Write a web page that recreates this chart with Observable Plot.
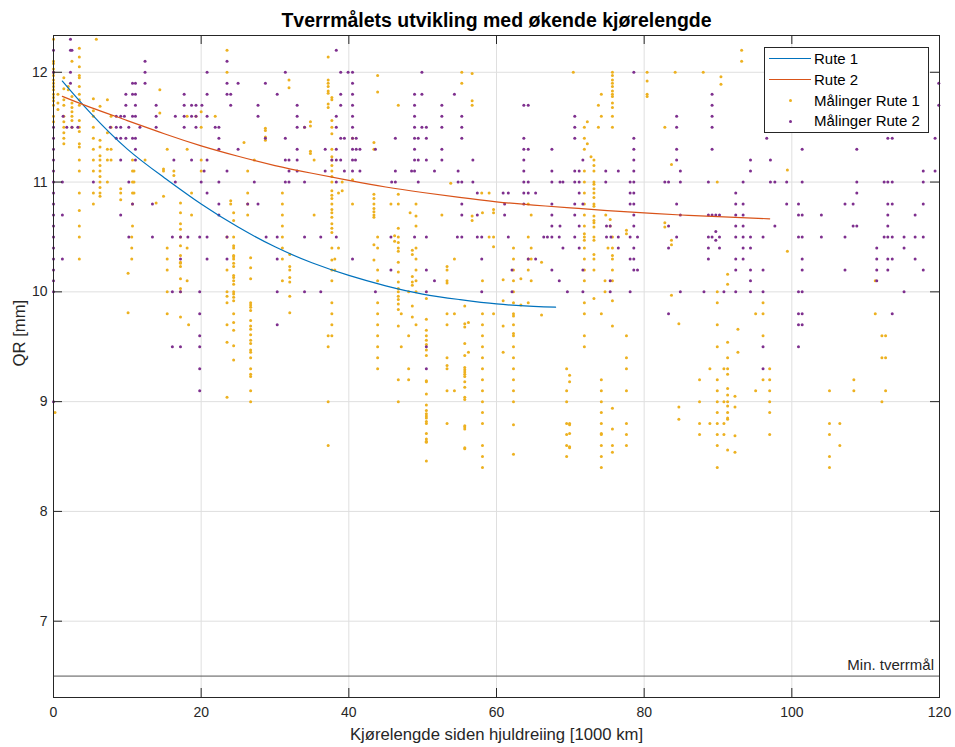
<!DOCTYPE html>
<html>
<head>
<meta charset="utf-8">
<script src="https://cdn.jsdelivr.net/npm/d3@7"></script>
<script src="https://cdn.jsdelivr.net/npm/@observablehq/plot@0.6"></script>
<style>
  body { margin: 0; background: #fff; font-family: "Liberation Sans", Arial, Helvetica, sans-serif; }
  #fig { position: relative; width: 955px; height: 747px; }
  #fig svg { position: absolute; left: 0; top: 0; }
  .lg-box { position: absolute; left: 764px; top: 47px; width: 165px; height: 86px; box-sizing: border-box;
            border: 1px solid #262626; background: #fff; }
  .lg-line { position: absolute; left: 769px; width: 42px; height: 0; border-top: 1.3px solid; }
  .lg-dot { position: absolute; left: 789px; width: 3px; height: 3px; border-radius: 50%; }
  .lg-text { position: absolute; left: 814px; font-size: 15px; line-height: 16px; color: #000; white-space: nowrap; }
</style>
</head>
<body>
<div id="fig"></div>
<script>
// Axis ticks
const xTicks = [0, 20, 40, 60, 80, 100, 120];
const yTicks = [7, 8, 9, 10, 11, 12];
const xDomain = [0, 120];
const yDomain = [6.305, 12.335];

// Minimum allowed flange thickness
const minTverrmaal = 6.5;
const minLabel = "Min. tverrmål";

// Fitted wear curves
const rute1Km = [1.2, 5, 10, 15, 20, 25, 30, 35, 40, 45, 50, 55, 60, 65, 68];
const rute1QR = [11.92, 11.63, 11.30, 11.04, 10.80, 10.59, 10.41, 10.265, 10.15, 10.055, 9.98, 9.93, 9.89, 9.867, 9.86];
const rute2Km = [1.2, 5, 10, 15, 20, 25, 30, 35, 40, 45, 50, 55, 60, 65, 70, 75, 80, 85, 90, 97];
const rute2QR = [11.78, 11.68, 11.56, 11.44, 11.33, 11.235, 11.15, 11.08, 11.015, 10.955, 10.905, 10.86, 10.82, 10.79, 10.765, 10.74, 10.72, 10.70, 10.685, 10.665];

// Measurements, route 1: [km, [QR values measured at that mileage]]
const malingerRute1 = [
  [0, [12.3, 12.1, 12.08, 12.03, 12.0, 11.97, 11.93, 11.9, 11.87, 11.84, 11.8, 11.77, 11.74, 11.7, 11.6, 11.55]],
  [0.2, [8.9]],
  [0.6, [11.8, 11.72, 11.66]],
  [1.4, [11.95, 11.85, 11.75, 11.7, 11.6, 11.55, 11.5, 11.45, 11.4, 11.35]],
  [2.0, [11.87, 11.84]],
  [2.5, [12.1, 11.78, 11.72, 11.68, 11.64, 11.6, 11.56, 11.5]],
  [3.5, [12.22, 12.14, 12.05, 11.97, 11.95, 11.87, 11.8, 11.75, 11.7, 11.56, 11.5, 11.46, 11.35, 11.32, 11.2, 11.1, 10.9, 10.74, 10.6, 10.5, 10.3]],
  [5.4, [11.76, 11.65, 11.6, 11.5, 11.4, 11.3, 11.2, 11.1, 10.9, 10.8]],
  [5.8, [12.3]],
  [6.3, [11.69, 11.38, 11.32, 11.24, 11.2, 11.15, 11.1, 11.05, 11.0, 10.95, 10.9, 10.87]],
  [7.3, [11.75, 11.45, 11.3, 11.2, 11.0]],
  [7.8, [11.6, 11.5, 11.3, 11.2]],
  [9.1, [10.94, 10.9, 10.84]],
  [10.1, [10.17, 9.81]],
  [10.6, [10.5, 10.4, 10.3]],
  [10.7, [11.2, 11.1, 11.0, 10.9, 10.8, 10.6]],
  [10.9, [11.1, 11.0, 10.9]],
  [12.4, [11.2]],
  [13.9, [10.81]],
  [14.4, [11.84, 11.63]],
  [14.9, [11.12, 11.1, 10.87]],
  [15.4, [11.3, 10.4, 10.3, 10.2, 10.0, 9.8]],
  [16.3, [11.1, 11.06]],
  [17.2, [10.81, 10.72, 10.62, 10.57, 10.5, 10.42, 10.33, 10.27, 10.26, 10.23, 10.12, 10.03, 10.0, 9.77]],
  [18.1, [11.6, 11.3, 10.4, 10.1]],
  [18.3, [9.7]],
  [18.7, [10.9, 10.7]],
  [19.3, [11.6]],
  [20.0, [11.64, 11.5, 11.2, 11.1]],
  [21.9, [11.6]],
  [23.5, [12.2, 12.0, 10.5, 10.2, 10.0, 9.96, 9.9, 9.7, 9.54, 9.04]],
  [24.0, [10.83, 10.8]],
  [24.4, [10.72, 10.65, 10.5, 10.42, 10.4, 10.33, 10.32, 10.3, 10.26, 10.23, 10.15, 10.13, 10.1, 10.07, 10.0, 9.98, 9.95, 9.92, 9.8, 9.72, 9.65, 9.51, 9.38]],
  [25.8, [11.36]],
  [26.3, [11.1, 10.9, 10.8, 10.7]],
  [26.7, [10.31, 10.22, 10.12, 9.9, 9.88, 9.86, 9.83, 9.74, 9.69, 9.66, 9.61, 9.56, 9.53, 9.47, 9.45, 9.4, 9.3, 9.25, 9.23, 9.1, 9.0]],
  [27.2, [11.2]],
  [28.7, [11.49, 11.47, 11.41, 11.38]],
  [31.0, [10.9, 10.8, 10.7, 10.6, 10.5, 10.4, 10.3, 10.1]],
  [31.9, [11.93, 11.86]],
  [32.0, [10.34, 10.23, 10.2, 10.13, 10.09, 9.96, 9.81]],
  [34.0, [11.5]],
  [34.8, [11.55, 11.51, 11.28, 11.26]],
  [35.3, [11.2, 10.7]],
  [37.2, [12.14, 11.93, 11.9, 11.87, 11.83, 11.81, 11.71, 11.68, 9.6, 9.5, 9.0, 8.6]],
  [37.7, [11.77, 11.75, 11.56, 11.5, 11.44, 11.3, 11.23, 11.2, 11.15, 11.1, 11.05, 11.0, 10.92, 10.88, 10.85, 10.8, 10.75, 10.72, 10.68, 10.62, 10.58, 10.54, 10.4, 10.29, 10.2, 10.1, 9.9, 9.8, 9.7, 9.6]],
  [38.1, [10.3, 10.2]],
  [38.6, [10.9, 10.4]],
  [39.1, [11.0, 10.92]],
  [40.5, [11.4, 11.02, 10.8]],
  [43.4, [11.36, 11.3, 10.89, 10.85, 10.8, 10.76, 10.73, 10.7, 10.68, 10.43, 10.29]],
  [43.9, [11.97, 11.82, 10.5, 10.4, 10.2, 10.1, 9.9, 9.8, 9.7, 9.6, 9.5, 9.4, 9.3]],
  [45.7, [10.8]],
  [46.2, [10.51, 10.46]],
  [46.7, [11.7, 10.89, 10.8, 10.58, 10.5, 10.45, 10.4, 10.37, 10.27, 10.18, 10.09, 10.03, 10.0, 9.96, 9.93, 9.89, 9.84, 9.69, 9.2, 9.0]],
  [47.1, [9.8, 9.5]],
  [48.1, [10.0, 9.6, 9.3, 9.2]],
  [48.3, [10.72]],
  [48.6, [10.38, 10.34, 10.14, 10.09, 10.06, 9.87, 9.77]],
  [49.1, [10.8, 10.69, 10.6, 10.4, 10.3, 10.2, 10.1, 10.0, 9.7]],
  [50.5, [9.94, 9.75, 9.65, 9.6, 9.56, 9.52, 9.47, 9.42, 9.19, 9.18, 9.07, 8.97, 8.92, 8.89, 8.87, 8.85, 8.82, 8.8, 8.71, 8.66, 8.64, 8.63, 8.46]],
  [52.6, [10.7]],
  [53.3, [10.23, 10.2, 10.1, 10.08, 9.8, 9.7, 9.4, 9.33, 9.3, 9.1, 8.8]],
  [53.8, [10.99]],
  [54.3, [10.3, 9.8, 9.1]],
  [55.3, [12.0, 11.9]],
  [55.7, [9.87, 9.71, 9.68, 9.53, 9.42, 9.31, 9.29, 9.27, 9.25, 9.23, 9.18, 9.13, 9.04, 9.02, 8.78, 8.77, 8.75, 8.58, 8.57]],
  [56.2, [9.72, 9.45]],
  [56.7, [11.99, 11.74, 11.7, 10.69, 10.65]],
  [58.0, [10.9]],
  [58.1, [10.72, 10.1, 9.8, 9.7, 9.6, 9.5, 9.4, 9.3, 9.2, 9.1, 9.0, 8.9, 8.8, 8.6, 8.5, 8.4]],
  [59.0, [10.9, 10.5]],
  [59.6, [10.75, 10.72, 10.5, 10.41, 9.8]],
  [60.9, [10.11, 9.92, 9.69, 9.45]],
  [62.3, [10.4, 10.3, 10.2, 10.1, 10.0, 9.9, 9.8, 9.78, 9.7, 9.62, 9.6, 9.5, 9.4, 9.3, 9.2, 9.1, 9.0, 8.79, 8.52]],
  [63.3, [10.12, 9.88]],
  [64.3, [10.8, 10.5, 10.3, 10.2, 9.9]],
  [64.7, [10.7, 10.4, 10.3, 10.1]],
  [66.1, [10.27, 9.79]],
  [69.5, [9.3, 9.1, 9.0, 8.8, 8.7, 8.6, 8.5]],
  [69.9, [9.24, 9.18, 8.8, 8.79, 8.71, 8.59, 8.58]],
  [70.4, [12.0]],
  [71.9, [11.5, 11.4, 11.3, 11.1, 11.0, 10.9, 10.8, 10.7, 10.6, 10.53, 10.5, 10.47, 10.4, 10.3, 10.2, 10.1, 9.9, 9.8, 9.6, 9.5]],
  [72.3, [11.55, 11.35]],
  [72.8, [11.23]],
  [73.2, [11.2, 11.15, 11.1, 11.0, 10.98, 10.94, 10.9, 10.86, 10.8, 10.78, 10.69, 10.65, 10.63, 10.59, 10.5, 10.47, 10.34, 10.3, 10.2, 9.94]],
  [73.8, [11.7, 11.5]],
  [74.2, [11.8, 11.6, 9.8, 9.2, 9.1, 9.0, 8.9, 8.8, 8.71, 8.7, 8.6, 8.5, 8.4]],
  [74.7, [10.1, 10.0]],
  [74.8, [10.7]],
  [75.1, [10.4]],
  [75.4, [10.66, 10.6]],
  [75.7, [12.0, 11.97, 11.93, 11.9, 11.87, 11.83, 11.8, 11.78, 11.72, 11.68, 11.6, 11.5, 10.5, 10.4, 10.33, 10.3, 10.2, 10.1, 9.92, 9.69, 8.94, 8.75, 8.6, 8.54]],
  [77.6, [10.56, 10.53, 9.6, 9.4, 9.3, 9.1, 8.8, 8.7, 8.6]],
  [80.4, [12.0, 11.92, 11.8, 11.78]],
  [82.8, [11.5, 10.63, 10.59]],
  [83.7, [11.16, 10.47, 10.43, 9.97]],
  [84.2, [12.0]],
  [84.7, [9.71, 8.95, 8.84]],
  [87.5, [9.2, 9.0, 8.8, 8.7]],
  [88.0, [12.0]],
  [88.9, [9.3, 8.8]],
  [89.9, [11.0, 10.0, 9.9, 9.7, 9.5, 9.2, 9.1, 9.0, 8.9, 8.8, 8.7, 8.6, 8.4]],
  [90.4, [11.96, 11.89]],
  [90.8, [9.3, 9.0, 8.8, 8.7]],
  [91.3, [10.16, 10.07, 9.54, 9.4, 9.3, 9.25, 9.12, 9.06, 9.0, 8.96, 8.9, 8.85, 8.84, 8.56]],
  [92.3, [9.05, 8.95, 8.69, 8.54]],
  [92.7, [9.66, 9.45]],
  [93.2, [12.2, 12.1]],
  [95.1, [9.8, 9.1]],
  [96.1, [9.9, 9.8, 9.6, 9.2]],
  [97.0, [9.3, 9.2, 9.1, 9.0, 8.9, 8.7]],
  [99.4, [11.11, 10.37]],
  [105.1, [9.1, 8.8, 8.7, 8.5, 8.4]],
  [106.5, [8.8, 8.6]],
  [108.4, [9.2, 9.1]],
  [111.3, [10.1, 9.8]],
  [112.2, [9.6, 9.4, 9.0]],
  [112.7, [9.6, 9.4, 9.1]]
];

// Measurements, route 2: [QR, [km values where that QR was measured]]
const malingerRute2 = [
  [12.3, [2.3]],
  [12.2, [0, 2.3, 2.5, 38.3]],
  [12.1, [12.4, 23.5]],
  [12.0, [0, 2.3, 12.4, 20.8, 31.4, 38.9, 39.9, 40.5, 49.9, 78.6]],
  [11.9, [2.3, 10.7, 11.1, 12.4, 23.5, 25.0, 28.7, 40.5, 119.9]],
  [11.8, [9.8, 10.7, 11.1, 17.7, 20.8, 23.5, 24.0, 30.3, 38.9, 40.5, 48.9, 49.9, 54.3, 89.2]],
  [11.7, [9.8, 11.1, 13.9, 17.7, 18.7, 19.3, 20.1, 24.0, 27.7, 33.0, 38.9, 40.5, 48.9, 52.6, 63.7, 64.3, 89.2, 119.9]],
  [11.6, [1.3, 8.5, 9.1, 9.6, 10.7, 11.1, 13.9, 16.5, 17.7, 18.7, 19.3, 20.8, 27.7, 33.0, 38.3, 40.5, 48.9, 52.6, 55.3, 70.6, 84.4, 89.2]],
  [11.5, [0, 1.8, 2.5, 3.3, 7.7, 8.5, 9.1, 10.2, 11.7, 13.9, 17.7, 19.3, 21.9, 22.4, 33.0, 34.0, 38.3, 40.5, 48.9, 49.9, 50.5, 52.6, 55.3, 70.6, 84.4, 89.2]],
  [11.4, [0, 8.5, 9.1, 9.8, 10.7, 11.1, 22.4, 28.7, 31.4, 38.9, 39.4, 40.5, 41.0, 46.3, 48.9, 49.4, 50.5, 55.3, 63.7, 70.6, 78.6, 96.6, 113.0, 113.6, 119.4]],
  [11.3, [0, 11.1, 22.4, 25.0, 33.0, 36.8, 38.3, 40.5, 41.0, 41.5, 43.6, 48.9, 52.6, 63.7, 64.3, 67.5, 78.6, 84.4, 89.2, 101.4, 108.8]],
  [11.2, [0, 9.1, 11.1, 16.3, 18.7, 20.8, 31.4, 31.9, 33.0, 37.7, 38.3, 38.9, 40.5, 40.9, 48.9, 49.4, 50.5, 52.6, 56.8, 63.7, 71.7, 78.6, 84.4, 94.4, 97.1]],
  [11.1, [0, 20.4, 23.5, 31.9, 33.0, 36.8, 39.4, 40.5, 41.5, 46.3, 48.5, 48.9, 51.6, 54.8, 63.7, 67.5, 70.6, 71.2, 74.8, 76.5, 78.6, 84.9, 94.4, 117.8, 119.4]],
  [11.0, [0, 1.2, 5.4, 10.2, 16.5, 20.0, 22.4, 27.2, 31.4, 31.9, 34.0, 38.3, 45.8, 46.3, 49.4, 54.8, 55.3, 56.8, 63.7, 64.3, 67.5, 68.6, 69.0, 70.6, 71.2, 74.8, 78.1, 78.6, 82.8, 83.3, 84.9, 88.7, 93.4, 97.1, 97.7, 99.3, 101.4, 108.8, 112.5, 113.0, 113.6, 117.8]],
  [10.9, [0, 20.8, 57.4, 60.9, 61.6, 63.7, 64.3, 65.3, 71.2, 78.1, 78.6, 92.4, 108.8]],
  [10.8, [0, 10.7, 13.4, 22.4, 26.3, 27.7, 55.3, 61.1, 63.7, 67.5, 70.6, 71.7, 78.1, 78.6, 84.4, 92.4, 93.4, 99.3, 100.9, 107.2, 108.3, 113.0, 113.6, 117.8]],
  [10.7, [0, 1.2, 9.1, 22.4, 55.3, 57.4, 61.1, 67.5, 70.6, 78.6, 84.9, 88.7, 89.2, 89.7, 90.2, 92.4, 93.4, 100.9, 101.4, 104.0, 113.0, 116.7]],
  [10.6, [0, 67.5, 68.6, 71.2, 74.9, 75.4, 78.6, 83.3, 92.4, 93.4, 97.7, 108.3, 108.8, 113.0]],
  [10.55, [89.7]],
  [10.5, [0, 10.2, 13.4, 16.1, 17.2, 18.2, 19.8, 20.8, 23.5, 28.8, 30.3, 34.0, 36.2, 38.3, 45.7, 48.9, 50.5, 54.7, 55.3, 57.4, 58.0, 61.6, 66.4, 66.9, 67.5, 68.5, 70.6, 74.9, 75.5, 76.5, 78.1, 79.1, 84.4, 88.7, 89.2, 90.2, 92.4, 93.4, 94.4, 96.1, 100.9, 101.4, 104.0, 107.2, 112.5, 113.0, 113.6, 115.2, 116.7, 117.8]],
  [10.47, [89.7]],
  [10.4, [0, 69.0, 71.2, 76.5, 78.6, 83.3, 88.7, 90.2, 93.4, 94.4, 111.5, 115.2]],
  [10.3, [0, 1.2, 17.2, 20.8, 23.5, 30.3, 40.5, 58.0, 64.3, 65.3, 78.1, 78.6, 88.7, 92.4, 93.4, 101.4, 111.5, 113.0, 113.6, 116.7]],
  [10.2, [0, 45.7, 50.5, 62.1, 67.5, 71.7, 78.6, 79.1, 92.4, 94.4, 96.1, 101.4, 107.2, 111.5, 113.0, 117.8]],
  [10.1, [0, 51.6, 68.5, 75.4, 94.4, 111.5]],
  [10.0, [0, 16.1, 17.2, 19.8, 30.3, 34.0, 36.2, 43.6, 50.5, 58.0, 62.1, 69.6, 71.7, 75.4, 78.1, 84.9, 88.1, 90.8, 92.4, 94.4, 96.1, 100.9, 101.4, 115.2]],
  [9.8, [19.8, 83.3, 100.9, 101.4, 113.6]],
  [9.7, [30.3, 100.9, 101.4]],
  [9.6, [19.8]],
  [9.5, [16.1, 17.2, 19.8, 50.5, 96.1, 100.9]],
  [9.3, [19.8, 50.5, 96.1]],
  [9.1, [19.8]],
  [9.0, [0]]
];

const seriesNames = ["Rute 1", "Rute 2", "Målinger Rute 1", "Målinger Rute 2"];
const seriesColors = ["#0072BD", "#D95319", "#EDB120", "#7E2F8E"];
const titleText = "Tverrmålets utvikling med økende kjørelengde";
const xLabel = "Kjørelengde siden hjuldreiing [1000 km]";
const yLabel = "QR [mm]";

// Tidy tables for the marks
const fit1 = rute1Km.map((km, i) => ({km, qr: rute1QR[i]}));
const fit2 = rute2Km.map((km, i) => ({km, qr: rute2QR[i]}));
const pts1 = malingerRute1.flatMap(([km, qrs]) => qrs.map(qr => ({km, qr})));
const pts2 = malingerRute2.flatMap(([qr, kms]) => kms.map(km => ({km, qr})));

const W = 955, H = 747;
const mL = 53, mR = 16, mT = 35, mB = 50;
const innerW = W - mL - mR, innerH = H - mT - mB;
const tickLen = 9;
const axisColor = "#262626";

const chart = Plot.plot({
  width: W,
  height: H,
  marginLeft: mL,
  marginRight: mR,
  marginTop: mT,
  marginBottom: mB,
  style: {fontFamily: "'Liberation Sans', Arial, Helvetica, sans-serif", fontSize: "14px", color: axisColor, background: "#fff", overflow: "visible"},
  x: {domain: xDomain},
  y: {domain: yDomain},
  marks: [
    Plot.gridX(xTicks, {stroke: "#dfdfdf", strokeOpacity: 1}),
    Plot.gridY(yTicks, {stroke: "#dfdfdf", strokeOpacity: 1}),
    Plot.ruleY([minTverrmaal], {stroke: "#555", strokeWidth: 1}),
    Plot.text([{label: minLabel, qr: minTverrmaal}], {
      y: "qr", text: "label", frameAnchor: "right", textAnchor: "end", lineAnchor: "bottom",
      dx: -5.5, dy: -6, fontSize: 15, fill: axisColor
    }),
    Plot.dot(pts1, {x: "km", y: "qr", r: 1.5, fill: seriesColors[2], stroke: "none"}),
    Plot.dot(pts2, {x: "km", y: "qr", r: 1.5, fill: seriesColors[3], stroke: "none"}),
    Plot.line(fit1, {x: "km", y: "qr", stroke: seriesColors[0], strokeWidth: 1.2, curve: "natural"}),
    Plot.line(fit2, {x: "km", y: "qr", stroke: seriesColors[1], strokeWidth: 1.2, curve: "natural"}),
    Plot.frame({stroke: axisColor, strokeWidth: 1}),
    // inward ticks on all four sides
    Plot.ruleX(xTicks, {stroke: axisColor, insetTop: innerH - tickLen}),
    Plot.ruleX(xTicks, {stroke: axisColor, insetBottom: innerH - tickLen}),
    Plot.ruleY(yTicks, {stroke: axisColor, insetRight: innerW - tickLen}),
    Plot.ruleY(yTicks, {stroke: axisColor, insetLeft: innerW - tickLen}),
    Plot.axisX(xTicks, {tickSize: 0, tickPadding: 10, tickFormat: d => String(d), label: null, fontSize: 14, fill: axisColor}),
    Plot.axisY(yTicks, {tickSize: 0, tickPadding: 6, tickFormat: d => String(d), label: null, fontSize: 14, fill: axisColor}),
    Plot.text([xLabel], {text: d => d, frameAnchor: "bottom", lineAnchor: "bottom", dy: 42.5, fontSize: 16.7, fill: axisColor}),
    Plot.text([yLabel], {text: d => d, frameAnchor: "left", lineAnchor: "bottom", rotate: -90, dx: -29, fontSize: 16.7, fill: axisColor}),
    Plot.text([titleText], {text: d => d, frameAnchor: "top", lineAnchor: "bottom", dy: -8.3, fontSize: 19.5, fontWeight: "bold", fill: "#000"})
  ]
});

const fig = document.getElementById("fig");
fig.appendChild(chart);

// Legend box in the upper right corner of the axes
const box = document.createElement("div");
box.className = "lg-box";
fig.appendChild(box);
const rowY = [59, 79.5, 100.5, 121];
seriesNames.forEach((name, i) => {
  const cy = rowY[i];
  if (i < 2) {
    const ln = document.createElement("div");
    ln.className = "lg-line";
    ln.style.top = (cy - 0.65) + "px";
    ln.style.borderTopColor = seriesColors[i];
    fig.appendChild(ln);
  } else {
    const dt = document.createElement("div");
    dt.className = "lg-dot";
    dt.style.top = (cy - 1.5) + "px";
    dt.style.background = seriesColors[i];
    fig.appendChild(dt);
  }
  const tx = document.createElement("div");
  tx.className = "lg-text";
  tx.style.top = (cy - 8) + "px";
  tx.textContent = name;
  fig.appendChild(tx);
});
</script>
</body>
</html>
